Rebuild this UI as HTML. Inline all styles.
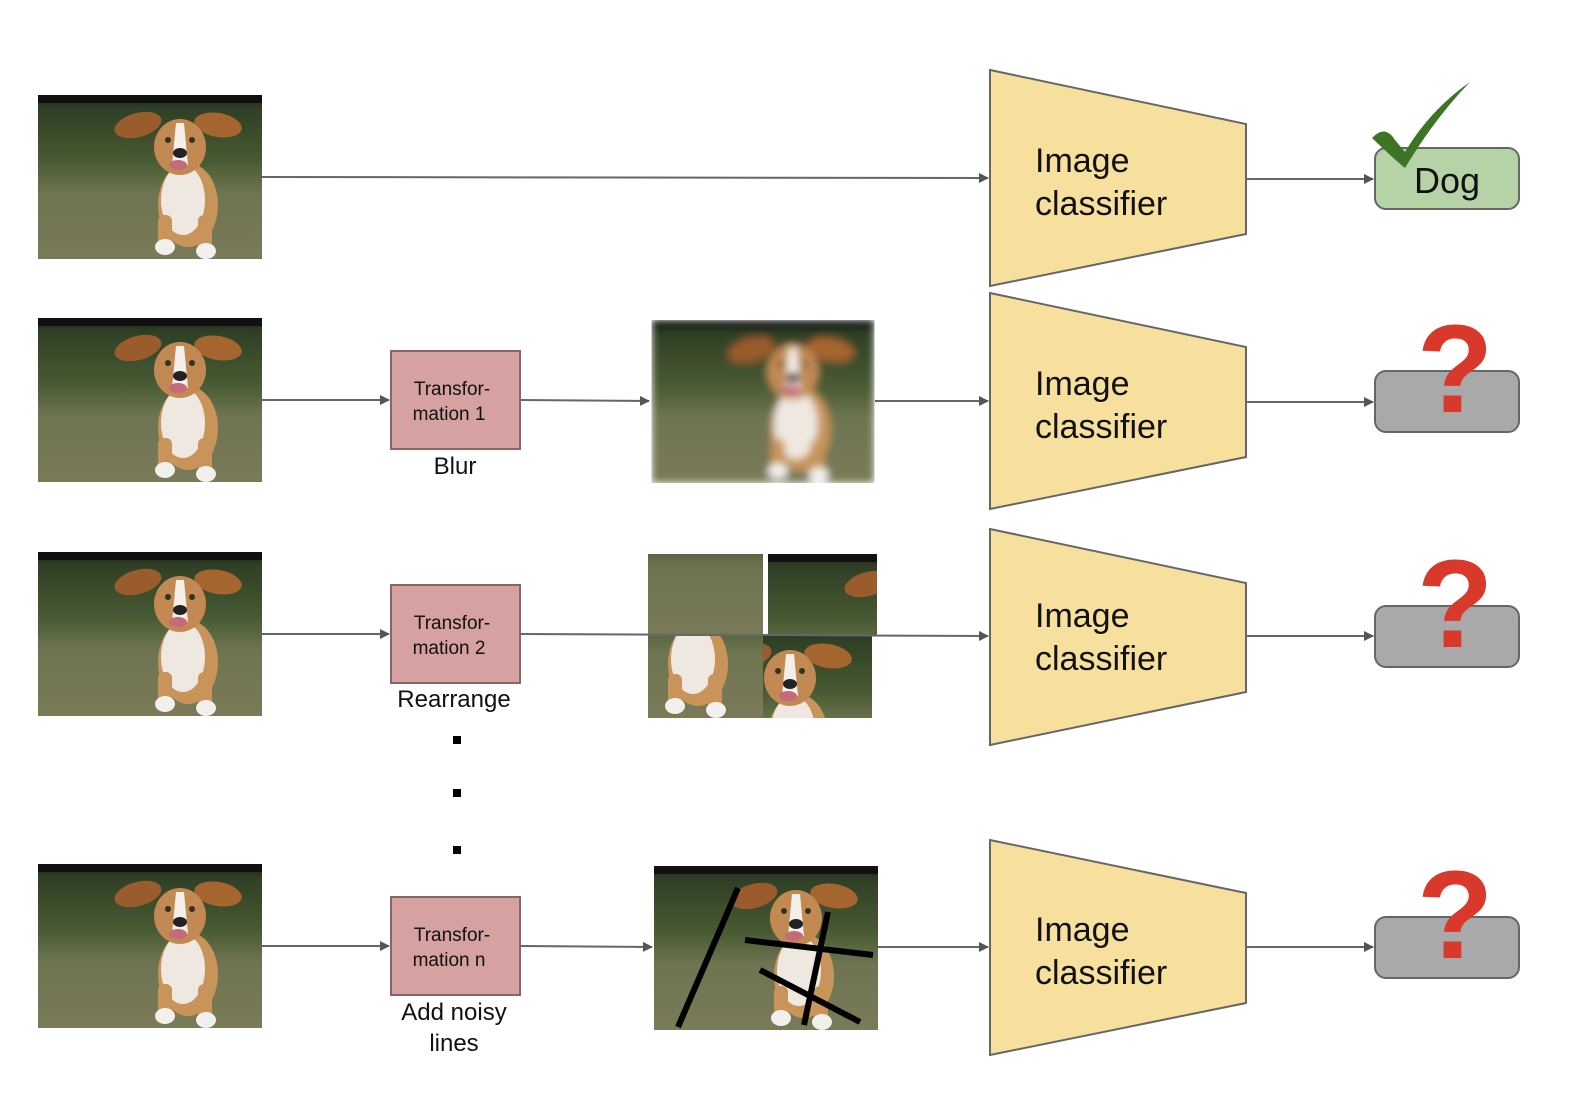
<!DOCTYPE html>
<html><head><meta charset="utf-8"><style>
html,body{margin:0;padding:0;background:#fff;}
svg{display:block;}
text{font-family:"Liberation Sans",sans-serif;}
</style></head><body>
<svg width="1584" height="1096" viewBox="0 0 1584 1096" xmlns="http://www.w3.org/2000/svg">
<defs>
<linearGradient id="bg" x1="0" y1="0" x2="0" y2="1">
<stop offset="0" stop-color="#1c2416"/><stop offset="0.08" stop-color="#2f3f25"/><stop offset="0.4" stop-color="#485a33"/><stop offset="0.6" stop-color="#6e7550"/><stop offset="1" stop-color="#7a7a58"/></linearGradient>
<filter id="blur" x="0" y="0" width="1" height="1"><feGaussianBlur stdDeviation="4" edgeMode="duplicate"/></filter>
<marker id="ar" markerWidth="10" markerHeight="10" refX="9" refY="5" orient="auto" markerUnits="userSpaceOnUse" viewBox="0 0 10 10"><path d="M0,0 L10,5 L0,10z" fill="#555"/></marker>
<clipPath id="c1" clipPathUnits="userSpaceOnUse"><rect x="648" y="554" width="115" height="82"/></clipPath>
<clipPath id="c2" clipPathUnits="userSpaceOnUse"><rect x="763" y="554" width="114" height="82"/></clipPath>
<clipPath id="c3" clipPathUnits="userSpaceOnUse"><rect x="648" y="636" width="115" height="82"/></clipPath>
<clipPath id="c4" clipPathUnits="userSpaceOnUse"><rect x="763" y="636" width="114" height="82"/></clipPath>
<symbol id="dog" viewBox="0 0 224 164">
<rect width="224" height="164" fill="url(#bg)"/>
<rect width="224" height="8" fill="#111"/>
<ellipse cx="100" cy="30" rx="24" ry="12" fill="#9a5c2c" transform="rotate(-15 100 30)"/>
<ellipse cx="180" cy="30" rx="24" ry="12" fill="#a5652f" transform="rotate(10 180 30)"/>
<ellipse cx="150" cy="110" rx="30" ry="42" fill="#c8945a"/>
<ellipse cx="145" cy="105" rx="22" ry="35" fill="#eee8e0"/>
<rect x="120" y="120" width="14" height="35" rx="6" fill="#c8945a"/>
<rect x="160" y="120" width="14" height="38" rx="6" fill="#c8945a"/>
<ellipse cx="127" cy="152" rx="10" ry="8" fill="#f2f0ec"/>
<ellipse cx="168" cy="156" rx="10" ry="8" fill="#f2f0ec"/>
<ellipse cx="142" cy="52" rx="26" ry="28" fill="#c28a52"/>
<path d="M138,28 L146,28 L150,70 L134,70z" fill="#f4efe8"/>
<circle cx="130" cy="45" r="3" fill="#332"/><circle cx="154" cy="45" r="3" fill="#332"/>
<ellipse cx="142" cy="58" rx="7" ry="5" fill="#222"/>
<ellipse cx="140" cy="70" rx="9" ry="5" fill="#c46a7a"/>
</symbol>
</defs>

<use href="#dog" x="38" y="95" width="224" height="164"/>
<use href="#dog" x="38" y="318" width="224" height="164"/>
<use href="#dog" x="38" y="552" width="224" height="164"/>
<use href="#dog" x="38" y="864" width="224" height="164"/>

<g filter="url(#blur)"><use href="#dog" x="651" y="320" width="224" height="163"/></g>

<g clip-path="url(#c1)"><use href="#dog" x="648" y="472" width="224" height="164"/></g>
<g clip-path="url(#c2)"><use href="#dog" x="768" y="554" width="224" height="164"/></g>
<g clip-path="url(#c3)"><use href="#dog" x="548" y="554" width="224" height="164"/></g>
<g clip-path="url(#c4)"><use href="#dog" x="648" y="626" width="224" height="164"/></g>

<use href="#dog" x="654" y="866" width="224" height="164"/>
<g stroke="#000" stroke-width="6">
<line x1="738" y1="888" x2="678" y2="1027"/>
<line x1="745" y1="940" x2="873" y2="955"/>
<line x1="760" y1="970" x2="860" y2="1022"/>
<line x1="828" y1="912" x2="804" y2="1025"/>
</g>

<g stroke="#666" stroke-width="2" fill="none" marker-end="url(#ar)">
<line x1="262" y1="177" x2="988" y2="178"/>
<line x1="1246" y1="179" x2="1373" y2="179"/>
<line x1="262" y1="400" x2="389" y2="400"/>
<line x1="520" y1="400" x2="649" y2="401"/>
<line x1="875" y1="401" x2="988" y2="401"/>
<line x1="1246" y1="402" x2="1373" y2="402"/>
<line x1="262" y1="634" x2="389" y2="634"/>
<line x1="520" y1="634" x2="988" y2="636"/>
<line x1="1246" y1="636" x2="1373" y2="636"/>
<line x1="262" y1="946" x2="389" y2="946"/>
<line x1="520" y1="946" x2="652" y2="947"/>
<line x1="878" y1="947" x2="988" y2="947"/>
<line x1="1246" y1="947" x2="1373" y2="947"/>
</g>

<g fill="#f7e09e" stroke="#666" stroke-width="2">
<polygon points="990,70 1246,124 1246,234 990,286"/>
<polygon points="990,293 1246,347 1246,457 990,509"/>
<polygon points="990,529 1246,583 1246,692 990,745"/>
<polygon points="990,840 1246,893 1246,1003 990,1055"/>
</g>
<g font-size="34" fill="#111">
<text x="1035" y="172">Image</text><text x="1035" y="215">classifier</text>
<text x="1035" y="395">Image</text><text x="1035" y="438">classifier</text>
<text x="1035" y="627">Image</text><text x="1035" y="670">classifier</text>
<text x="1035" y="941">Image</text><text x="1035" y="984">classifier</text>
</g>

<g fill="#d5a1a1" stroke="#866" stroke-width="2">
<rect x="391" y="351" width="129" height="98"/>
<rect x="391" y="585" width="129" height="98"/>
<rect x="391" y="897" width="129" height="98"/>
</g>
<g font-size="19" fill="#111" text-anchor="middle">
<text x="452" y="395">Transfor-</text><text x="449" y="420">mation 1</text>
<text x="452" y="629">Transfor-</text><text x="449" y="654">mation 2</text>
<text x="452" y="941">Transfor-</text><text x="449" y="966">mation n</text>
</g>
<g font-size="24" fill="#111" text-anchor="middle">
<text x="455" y="474">Blur</text>
<text x="454" y="707">Rearrange</text>
<text x="454" y="1020">Add noisy</text>
<text x="454" y="1051">lines</text>
</g>
<g fill="#000"><rect x="453" y="736" width="8" height="8"/><rect x="453" y="789" width="8" height="8"/><rect x="453" y="846" width="8" height="8"/></g>

<rect x="1375" y="148" width="144" height="61" rx="11" fill="#b6d3a8" stroke="#666" stroke-width="2"/>
<text x="1447" y="193" font-size="36" text-anchor="middle" fill="#111">Dog</text>
<path d="M1372,138 Q1385,124 1395,140 L1405,152 Q1430,110 1470,82 Q1435,118 1405,168 Q1395,160 1372,138z" fill="#3d7425"/>
<g fill="#a9a9a9" stroke="#666" stroke-width="2">
<rect x="1375" y="371" width="144" height="61" rx="11"/>
<rect x="1375" y="606" width="144" height="61" rx="11"/>
<rect x="1375" y="917" width="144" height="61" rx="11"/>
</g>
<g font-size="125" font-weight="bold" fill="#d9392a" text-anchor="middle" font-family="Liberation Sans">
<text x="1455" y="412">?</text>
<text x="1455" y="647">?</text>
<text x="1455" y="958">?</text>
</g>
</svg>
</body></html>
